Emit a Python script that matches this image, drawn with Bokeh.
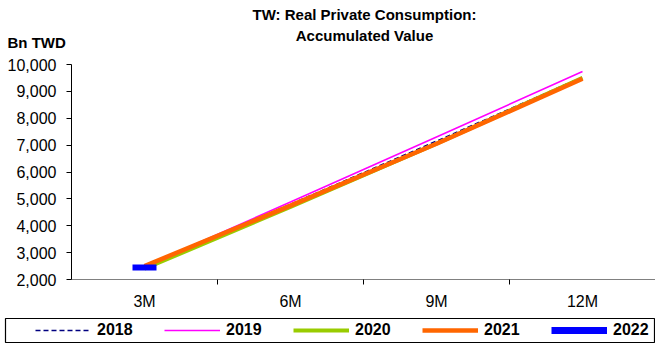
from bokeh.plotting import figure
from bokeh.layouts import column
from bokeh.models import (ColumnDataSource, FixedTicker, NumeralTickFormatter, Range1d,
                          Legend, LegendItem, Label)
from bokeh.embed import file_html
from bokeh.resources import INLINE

categories = ["3M", "6M", "9M", "12M"]
v2018 = [2450, 4800, 7150, 9530]
v2019 = [2480, 4880, 7300, 9740]
v2020 = [2400, 4700, 7050, 9500]
v2021 = [2500, 4750, 7050, 9470]
v2022 = [2450]
series_names = ["2018", "2019", "2020", "2021", "2022"]
y_ticks = [2000, 3000, 4000, 5000, 6000, 7000, 8000, 9000, 10000]

FONT = "Liberation Sans"
W = 655
HEAD_H = 52
MAIN_H = 263
LEG_H = 34

styles = [
    dict(line_color="#000080", line_width=1.5, line_dash="5 3"),
    dict(line_color="#FF00FF", line_width=1.6),
    dict(line_color="#99CC00", line_width=4),
    dict(line_color="#FF6600", line_width=4.5),
    dict(line_color="#0000FF", line_width=7),
]

xs = [i + 1 for i in range(len(categories))]
series = [v2018, v2019, v2020, v2021, v2022]


def blank_fig(h, left=0, right=0, top=0, bottom=0):
    f = figure(width=W, height=h, output_backend="svg", toolbar_location=None,
               x_range=Range1d(0, 0.5), y_range=Range1d(0, 1),
               x_axis_type=None, y_axis_type=None,
               min_border=0, min_border_left=left, min_border_right=right,
               min_border_top=top, min_border_bottom=bottom, frame_align=False)
    f.outline_line_color = None
    f.xgrid.visible = False
    f.ygrid.visible = False
    return f


# ---------- header (title + unit) ----------
head = blank_fig(HEAD_H)
for txt, y in [("TW: Real Private Consumption:", 38), ("Accumulated Value", 17)]:
    head.add_layout(Label(x=364, y=y, x_units="screen", y_units="screen", text=txt,
                          text_align="center", text_baseline="alphabetic",
                          text_font=FONT, text_font_style="bold",
                          text_font_size="15px", text_color="black"))
head.add_layout(Label(x=7, y=10, x_units="screen", y_units="screen", text="Bn TWD",
                      text_align="left", text_baseline="alphabetic",
                      text_font=FONT, text_font_style="bold",
                      text_font_size="15px", text_color="black"))

# ---------- main chart ----------
p = figure(width=W, height=MAIN_H, output_backend="svg", toolbar_location=None,
           x_range=Range1d(0.5, len(categories) + 0.5), y_range=Range1d(2000, 10000),
           min_border_left=71, min_border_right=0, min_border_top=12, min_border_bottom=36,
           frame_align=False)
p.outline_line_color = None
p.xgrid.visible = False
p.ygrid.visible = False

p.yaxis.ticker = FixedTicker(ticks=y_ticks)
p.yaxis.formatter = NumeralTickFormatter(format="0,0")
p.yaxis.major_label_text_font = FONT
p.yaxis.major_label_text_font_size = "16px"
p.yaxis.major_label_text_color = "black"
p.yaxis.major_tick_out = 5
p.yaxis.major_tick_in = 0
p.yaxis.minor_tick_line_color = None
p.yaxis.axis_line_color = "black"
p.yaxis.major_tick_line_color = "black"
p.yaxis.major_label_standoff = 10

p.xaxis.ticker = FixedTicker(ticks=xs, minor_ticks=[x + 0.5 for x in xs[:-1]])
p.xaxis.major_label_overrides = {x: c for x, c in zip(xs, categories)}
p.xaxis.major_label_text_font = FONT
p.xaxis.major_label_text_font_size = "16px"
p.xaxis.major_label_text_color = "black"
p.xaxis.major_tick_out = 0
p.xaxis.major_tick_in = 0
p.xaxis.minor_tick_out = 5
p.xaxis.minor_tick_in = 0
p.xaxis.minor_tick_line_color = "black"
p.xaxis.axis_line_color = "#808080"
p.xaxis.major_label_standoff = 8

src = ColumnDataSource(dict(x=xs, y18=v2018, y19=v2019, y20=v2020, y21=v2021))
src22 = ColumnDataSource(dict(x=xs[:len(v2022)], y=v2022))

p.line("x", "y18", source=src, **styles[0])
p.line("x", "y19", source=src, **styles[1])
p.line("x", "y20", source=src, **styles[2])
p.line("x", "y21", source=src, **styles[3])
p.scatter("x", "y", source=src22, marker="dash", size=24, line_width=6,
          line_color="#0000FF")

# ---------- legend strip (frame outline = legend box) ----------
leg = blank_fig(LEG_H, left=5, right=1, top=3, bottom=7)
leg.outline_line_color = "black"
leg.outline_line_width = 1.2
items = []
for name, st, vals in zip(series_names, styles, series):
    # same series data; lies outside this strip's ranges, only its legend glyph shows
    r = leg.line(x=xs[:len(vals)], y=vals, **st)
    items.append(LegendItem(label=name, renderers=[r]))
legend = Legend(items=items, orientation="horizontal", location=(30, 3),
                glyph_width=56, glyph_height=16, label_width=38, label_height=16,
                label_standoff=6, spacing=29, padding=0, margin=0,
                label_text_font=FONT, label_text_font_style="bold",
                label_text_font_size="16px", label_text_color="black",
                border_line_color=None, background_fill_alpha=0)
leg.add_layout(legend, "center")

layout = column(head, p, leg, spacing=0)
open("out.html", "w").write(file_html(layout, INLINE))
